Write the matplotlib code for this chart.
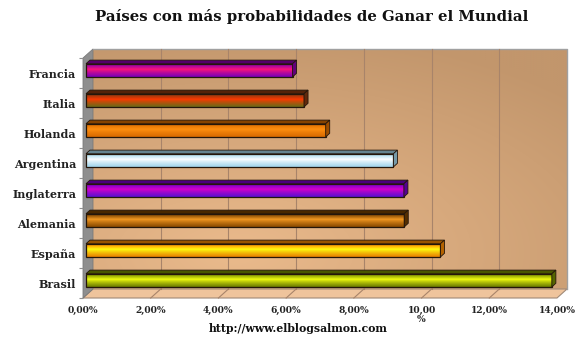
import numpy as np
import matplotlib
matplotlib.use("Agg")
import matplotlib.pyplot as plt
from matplotlib.patches import Polygon, Rectangle
from matplotlib.colors import to_rgb

# Data
paises = ["Brasil", "España", "Alemania", "Inglaterra", "Argentina", "Holanda", "Italia", "Francia"]
probabilidad = [13.76, 10.47, 9.40, 9.39, 9.08, 7.08, 6.44, 6.10]
ticks_x = [0, 2, 4, 6, 8, 10, 12, 14]
etiquetas_x = ["0,00%", "2,00%", "4,00%", "6,00%", "8,00%", "10,00\n%", "12,00%", "14,00%"]

# Tube colours: upper edge, bright centre, lower edge
color_sup = ["#7a9000", "#ff8c00", "#7a4200", "#7a00d0", "#a8dcf0", "#e07000", "#8a3a10", "#8a00b0"]
color_centro = ["#f4ff10", "#ffff10", "#f59a22", "#d800c8", "#ffffff", "#ff9010", "#ff3800", "#ff1478"]
color_inf = ["#6a7a00", "#e88000", "#8a4a00", "#5a10d0", "#a0d4ec", "#d86a00", "#6a6a18", "#7800b8"]

plt.rcParams["font.family"] = ["DejaVu Serif"]

W, H = 580, 345
fig = plt.figure(figsize=(W / 100, H / 100), dpi=100)
fig.patch.set_facecolor("white")

# Front plane of the 3D box
ax = fig.add_axes([83 / W, (H - 298) / H, 474 / W, 240 / H])
ax.set_facecolor("none")
XMAX = 14
YLO, YHI = -0.5, 7.5

# Depth vector of the box (in data units)
DX = 10 * XMAX / 474
DY = 9 * 8 / 240


def mezcla(c1, c2, t):
    a, b = np.array(to_rgb(c1)), np.array(to_rgb(c2))
    return tuple(a * (1 - t) + b * t)


# Back wall with soft gradient
nx, ny = 200, 120
gx, gy = np.meshgrid(np.linspace(0, 1, nx), np.linspace(1, 0, ny))
t = np.clip(np.sqrt(((gx - 0.3) / 1.0) ** 2 + ((gy - 0.15) / 0.95) ** 2), 0, 1)
claro = np.array([234, 186, 140]) / 255
oscuro = np.array([194, 150, 108]) / 255
pared = claro[None, None, :] * (1 - t[..., None]) + oscuro[None, None, :] * t[..., None]
ax.imshow(pared, extent=(DX, XMAX + DX, YLO + DY, YHI + DY), aspect="auto",
          interpolation="bilinear", zorder=0, clip_on=False)

# Floor
suelo = Polygon([(0, YLO), (XMAX, YLO), (XMAX + DX, YLO + DY), (DX, YLO + DY)],
                closed=True, facecolor="#efc49c", edgecolor="#a08a78", lw=0.8,
                zorder=1, clip_on=False)
ax.add_patch(suelo)

# Left side wall
lateral = Polygon([(0, YLO), (DX, YLO + DY), (DX, YHI + DY), (0, YHI)],
                  closed=True, facecolor="#8e8e8e", edgecolor="#7a7a7a", lw=0.6,
                  zorder=1, clip_on=False)
ax.add_patch(lateral)

# Back wall border
ax.plot([DX, XMAX + DX, XMAX + DX], [YHI + DY, YHI + DY, YLO + DY],
        color="#a0a0a0", lw=1.0, zorder=1, clip_on=False)

# Gridlines on the back wall and the floor
for xv in ticks_x[1:-1]:
    ax.plot([xv + DX, xv + DX], [YLO + DY, YHI + DY], color="#a8846a", lw=0.8,
            zorder=1, clip_on=False)
    ax.plot([xv, xv + DX], [YLO, YLO + DY], color="#a8846a", lw=0.8,
            zorder=1, clip_on=False)

# 3D bars
h = 0.44
f0, f1 = 0.3, 0.7
contorno = "#24160a"
for i, v in enumerate(probabilidad):
    x0 = f0 * DX
    x1 = v + f0 * DX
    yc = i + f0 * DY
    yb, yt = yc - h / 2, yc + h / 2
    bx, by = (f1 - f0) * DX, (f1 - f0) * DY
    # front face with tube gradient (top -> centre -> bottom)
    s = np.linspace(0, 1, 48)
    filas = []
    for si in s:
        if si < 0.45:
            filas.append(mezcla(color_sup[i], color_centro[i], (si / 0.45) ** 1.5))
        else:
            filas.append(mezcla(color_centro[i], color_inf[i], ((si - 0.45) / 0.55) ** 0.8))
    grad = np.array(filas)[:, None, :]
    ax.imshow(grad, extent=(x0, x1, yb, yt), aspect="auto", interpolation="bilinear",
              zorder=3, clip_on=False)
    ax.add_patch(Rectangle((x0, yb), x1 - x0, h, fill=False, edgecolor=contorno,
                           lw=0.9, zorder=4, clip_on=False))
    # top face
    ax.add_patch(Polygon([(x0, yt), (x1, yt), (x1 + bx, yt + by), (x0 + bx, yt + by)],
                         closed=True, facecolor=mezcla(color_sup[i], "black", 0.4),
                         edgecolor=contorno, lw=0.6, zorder=4, clip_on=False))
    # end cap
    ax.add_patch(Polygon([(x1, yb), (x1 + bx, yb + by), (x1 + bx, yt + by), (x1, yt)],
                         closed=True, facecolor=mezcla(color_sup[i], "black", 0.3),
                         edgecolor=contorno, lw=0.6, zorder=4, clip_on=False))

ax.set_xlim(0, XMAX)
ax.set_ylim(YLO, YHI)
for sp in ax.spines.values():
    sp.set_visible(False)

ax.set_xticks(ticks_x)
ax.set_xticklabels(etiquetas_x, fontsize=6.6, fontweight="bold", color="#222222",
                   linespacing=1.0, va="top")
ax.tick_params(axis="x", length=0, pad=6)

ax.set_yticks(range(len(paises)))
ax.set_yticklabels(paises, fontsize=8, fontweight="bold", color="#222222")
ax.set_yticks(np.arange(YLO, YHI + 0.01, 1), minor=True)
ax.tick_params(axis="y", which="major", length=0, pad=5)
ax.tick_params(axis="y", which="minor", length=3, color="#909090", width=0.8)

fig.text(311.5 / W, 1 - 17 / H, "Países con más probabilidades de Ganar el Mundial",
         ha="center", va="center", fontsize=10.7, fontweight="bold", color="#111111")
fig.text(298 / W, 1 - 329 / H, "http://www.elblogsalmon.com",
         ha="center", va="center", fontsize=7.8, fontweight="bold", color="#111111")

fig.savefig("out.png", dpi=100)
